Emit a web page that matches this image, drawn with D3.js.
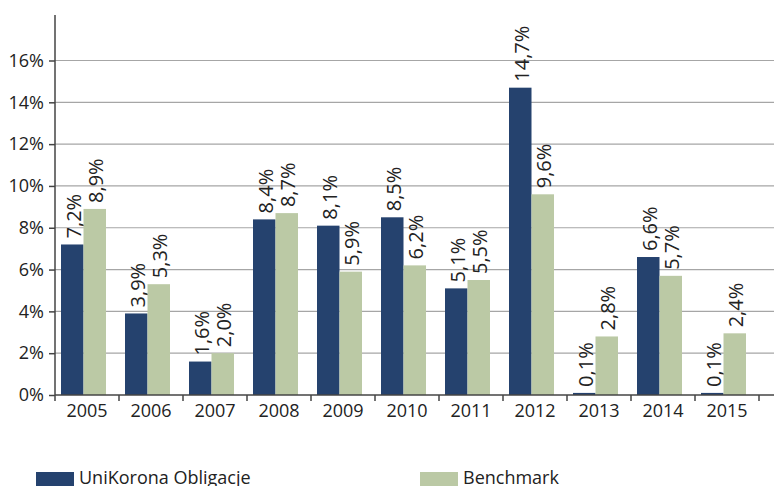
<!DOCTYPE html>
<html><head><meta charset="utf-8">
<script src="https://cdn.jsdelivr.net/npm/d3@7"></script>
<style>body{margin:0;background:#fff}svg{display:block;font-family:"Open Sans",sans-serif}</style>
</head><body><svg id="c" width="774" height="486"></svg>
<script>
const years = ["2005","2006","2007","2008","2009","2010","2011","2012","2013","2014","2015"];
const uniValues = [7.2,3.9,1.6,8.4,8.1,8.5,5.1,14.7,0.1,6.6,0.1];
const benchValues = [8.9,5.3,2.0,8.7,5.9,6.2,5.5,9.6,2.8,5.7,2.95];
const uniLabels = ["7,2%","3,9%","1,6%","8,4%","8,1%","8,5%","5,1%","14,7%","0,1%","6,6%","0,1%"];
const benchLabels = ["8,9%","5,3%","2,0%","8,7%","5,9%","6,2%","5,5%","9,6%","2,8%","5,7%","2,4%"];
const yTicks = [0,2,4,6,8,10,12,14,16];
const seriesNames = ["UniKorona Obligacje","Benchmark"];
const colors = ["#25426e","#bbc9a5"];

const svg = d3.select("#c");
const x = d3.scaleBand().domain(years).range([55,759]);
const y = d3.scaleLinear().domain([0,16]).range([395,60.5]);
const bw = 22.5, off = 6;

// gridlines
svg.append("g").selectAll("line").data(yTicks.filter(d=>d>0)).join("line")
  .attr("x1",55).attr("x2",774).attr("y1",d=>y(d)).attr("y2",d=>y(d))
  .attr("stroke","#a6a6a6").attr("stroke-width",1.2);

const series = [uniValues, benchValues];
const labels = [uniLabels, benchLabels];
series.forEach((vals,si)=>{
  svg.append("g").selectAll("rect").data(years).join("rect")
    .attr("x",d=>x(d)+off+si*bw).attr("width",bw)
    .attr("y",(d,i)=>y(vals[i])).attr("height",(d,i)=>y(0)-y(vals[i]))
    .attr("fill",colors[si]);
  svg.append("g").selectAll("text").data(years).join("text")
    .attr("transform",(d,i)=>`translate(${x(d)+off+si*bw+bw/2+1},${y(vals[i])-6}) rotate(-90)`)
    .attr("dominant-baseline","central").attr("font-size",20).attr("fill","#222")
    .text((d,i)=>labels[si][i]);
});

// y axis
const yAxis = d3.axisLeft(y).tickValues(yTicks).tickFormat(d=>d+"%").tickSize(6).tickPadding(5);
const ya = svg.append("g").attr("transform","translate(55,0)").call(yAxis);
ya.select(".domain").attr("d","M0,15V395").attr("stroke","#444").attr("stroke-width",1.5);
ya.selectAll(".tick line").attr("stroke","#444").attr("stroke-width",1.5);
ya.selectAll("text").attr("font-size",18).attr("fill","#222").attr("font-family","Open Sans");

// x axis
const xAxis = d3.axisBottom(x).tickSize(0).tickPadding(9);
const xa = svg.append("g").attr("transform","translate(0,395)").call(xAxis);
xa.select(".domain").attr("d","M55,0H774").attr("stroke","#444").attr("stroke-width",1.5);
xa.selectAll("text").attr("font-size",18).attr("fill","#222").attr("font-family","Open Sans");
xa.selectAll(".sep").data(years.concat(["end"])).join("line").attr("class","sep")
  .attr("x1",(d,i)=>55+i*x.step()).attr("x2",(d,i)=>55+i*x.step())
  .attr("y1",0).attr("y2",6).attr("stroke","#444").attr("stroke-width",1.5);

// legend
const lx = [36,420];
seriesNames.forEach((n,i)=>{
  svg.append("rect").attr("x",lx[i]).attr("y",472).attr("width",38).attr("height",16).attr("fill",colors[i]);
  svg.append("text").attr("x",lx[i]+43).attr("y",484).attr("font-size",18).attr("fill","#222").text(n);
});
</script></body></html>
